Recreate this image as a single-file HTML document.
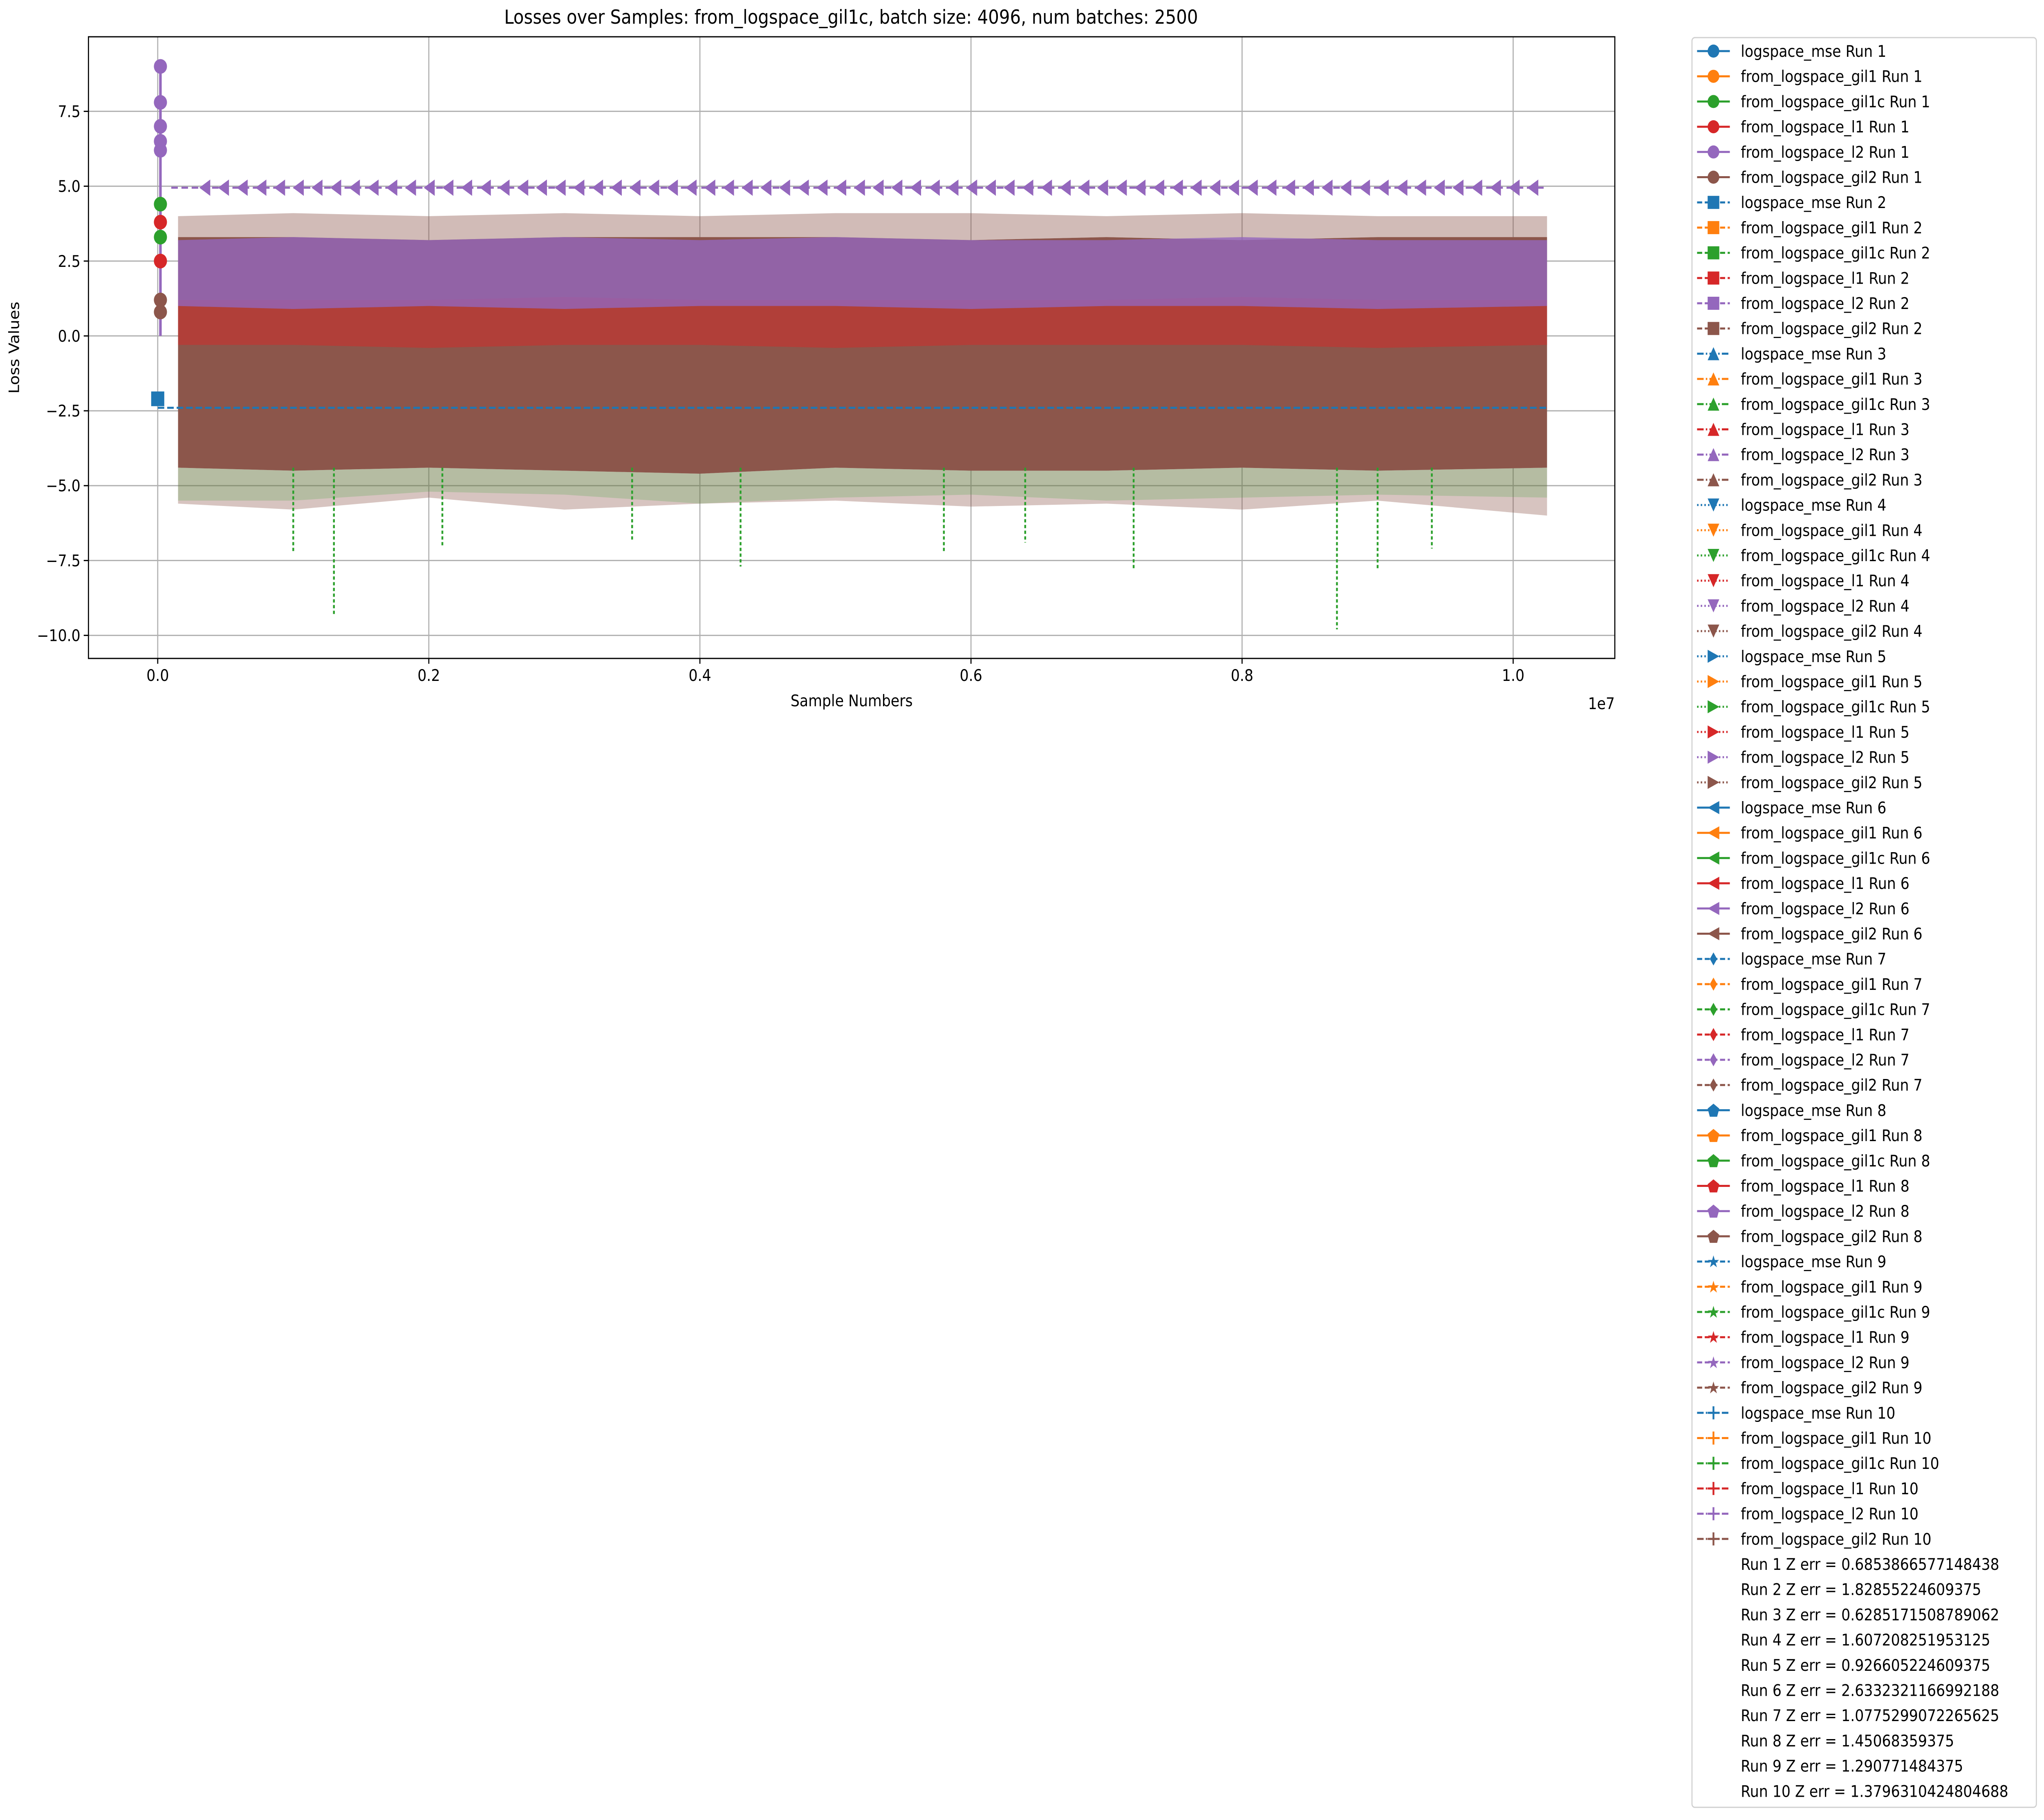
<!DOCTYPE html>
<html><head><meta charset="utf-8">
<style>
html,body{margin:0;padding:0;background:#fff;overflow:hidden;width:100%;height:100%;}
svg{display:block;width:100vw;height:100vh;font-family:"DejaVu Sans","Liberation Sans",sans-serif;}
</style></head>
<body>
<svg id="chart" xmlns="http://www.w3.org/2000/svg" viewBox="0 0 5615 4453" preserveAspectRatio="none">
<rect x="0" y="0" width="5615" height="4453" fill="#fff"/>
<text x="2338" y="58" font-size="47" text-anchor="middle">Losses over Samples: from_logspace_gil1c, batch size: 4096, num batches: 2500</text>
<g id="grid"></g>
<g id="marks"></g>
<g id="axes"></g>
<g id="legend"></g>
</svg>
<script>
// ---- data (sample numbers in millions, loss values) ----
const xTicks = [0, 0.2, 0.4, 0.6, 0.8, 1.0];          // x1e7
const xTickLabels = ["0.0","0.2","0.4","0.6","0.8","1.0"];
const yTicks = [-10, -7.5, -5, -2.5, 0, 2.5, 5, 7.5];
const yTickLabels = ["−10.0","−7.5","−5.0","−2.5","0.0","2.5","5.0","7.5"];
const binX = [0.15, 1, 2, 3, 4, 5, 6, 7, 8, 9, 10.25];
const gil2Hi = [3.3, 3.3, 3.2, 3.3, 3.3, 3.3, 3.2, 3.3, 3.2, 3.3, 3.3];
const gil2Lo = [-4.4, -4.5, -4.4, -4.5, -4.6, -4.4, -4.5, -4.5, -4.4, -4.5, -4.4];
const gil2SparseHi = [4.0, 4.1, 4.0, 4.1, 4.0, 4.1, 4.1, 4.0, 4.1, 4.0, 4.0];
const gil2SparseLo = [-5.6, -5.8, -5.4, -5.8, -5.6, -5.5, -5.7, -5.6, -5.8, -5.5, -6.0];
const l2Hi = [3.2, 3.3, 3.2, 3.3, 3.2, 3.3, 3.2, 3.2, 3.3, 3.2, 3.2];
const l2Lo = [1.0, 0.9, 1.0, 0.9, 1.0, 1.0, 0.9, 1.0, 1.0, 0.9, 1.0];
const l1Hi = [1.2, 1.2, 1.2, 1.3, 1.2, 1.2, 1.2, 1.2, 1.3, 1.2, 1.2];
const l1Lo = [-0.3, -0.3, -0.4, -0.3, -0.3, -0.4, -0.3, -0.3, -0.3, -0.4, -0.3];
const gil1cLo = [-5.5, -5.5, -5.2, -5.3, -5.6, -5.4, -5.3, -5.5, -5.4, -5.3, -5.4];
const spikeX = [1.3, 1.0, 2.1, 4.3, 5.8, 7.2, 8.7, 9.0, 9.4, 6.4, 3.5];
const spikeY = [-9.3, -7.2, -7.0, -7.7, -7.2, -7.8, -9.8, -7.8, -7.1, -6.9, -6.8];
const mseLevel = -2.4;
const l2Run6Level = 4.95;
const startVals = [9.0, 7.8, 7.0, 6.5, 6.2, 4.4, 3.8, 3.3, 2.5, 1.2, 0.8];
const startColors = [4, 4, 4, 4, 4, 2, 3, 2, 3, 5, 5];
const zErr = ["0.6853866577148438","1.82855224609375","0.6285171508789062","1.607208251953125","0.926605224609375","2.6332321166992188","1.0775299072265625","1.45068359375","1.290771484375","1.3796310424804688"];

// ---- axes ----
const L = 243, R = 4436, T = 90, B = 1611;
const xMin = -0.511, xMax = 10.75, yMin = -10.77, yMax = 9.99;
const X = v => L + (v - xMin) / (xMax - xMin) * (R - L);
const Y = v => B - (v - yMin) / (yMax - yMin) * (B - T);
const NS = "http://www.w3.org/2000/svg";
const colors = ["#1f77b4","#ff7f0e","#2ca02c","#d62728","#9467bd","#8c564b"];
function mk(tag, attrs, parent){const e=document.createElementNS(NS,tag);for(const k in attrs)e.setAttribute(k,attrs[k]);parent.appendChild(e);return e;}
const grid = document.getElementById('grid'), marks = document.getElementById('marks'), axes = document.getElementById('axes'), legend = document.getElementById('legend');

xTicks.forEach((t,i)=>{
  const x = X(t*10);
  let g = mk('line',{x1:x,x2:x,y1:T,y2:B,stroke:'#b0b0b0','stroke-width':3},grid);
  
  
  let tk = mk('line',{x1:x,x2:x,y1:B,y2:B+13,stroke:'#000','stroke-width':3},axes);
  
  
  let tl = mk('text',{x:x,y:B+55,'font-size':39,'text-anchor':'middle'},axes);
  tl.textContent = xTickLabels[i];
  
  
});
yTicks.forEach((t,i)=>{
  const y = Y(t);
  let g = mk('line',{x1:L,x2:R,y1:y,y2:y,stroke:'#b0b0b0','stroke-width':3},grid);
  
  
  let tk = mk('line',{x1:L-13,x2:L,y1:y,y2:y,stroke:'#000','stroke-width':3},axes);
  
  
  let tl = mk('text',{x:L-22,y:y+14,'font-size':39,'text-anchor':'end'},axes);
  tl.textContent = yTickLabels[i];
  
  
});
let sp = mk('rect',{x:L,y:T,width:R-L,height:B-T,fill:'none',stroke:'#000','stroke-width':3},axes);


let xl = mk('text',{x:(L+R)/2,y:1728,'font-size':39,'text-anchor':'middle'},axes);
xl.textContent='Sample Numbers';


let yl = mk('text',{x:0,y:0,'font-size':39,'text-anchor':'middle',transform:`translate(52,${(T+B)/2}) rotate(-90)`},axes);
yl.textContent='Loss Values';


let ex = mk('text',{x:R,y:1735,'font-size':39,'text-anchor':'end'},axes);
ex.textContent='1e7';



// ---- marks ----
const clip = mk('clipPath',{id:'pc'},mk('defs',{},marks));
mk('rect',{x:L,y:T,width:R-L,height:B-T},clip);
const pg = mk('g',{'clip-path':'url(#pc)'},marks);
function band(hi, lo, color, op, name){
  let pts = binX.map((x,i)=>X(x)+','+Y(hi[i]));
  for(let i=binX.length-1;i>=0;i--) pts.push(X(binX[i])+','+Y(lo[i]));
  const p = mk('polygon',{points:pts.join(' '),fill:color,'fill-opacity':op},pg);
  
  
}
band(gil2SparseHi, gil2Hi, colors[5], 0.4, 'gil2-sparse-upper-band');
band(gil2Lo, gil2SparseLo, colors[5], 0.35, 'gil2-sparse-lower-band');
band(gil2Lo, gil1cLo, colors[2], 0.2, 'gil1c-lower-band');
band(gil2Hi, gil2Lo, colors[5], 1, 'gil2-band');
band(l1Hi, l1Lo, colors[3], 0.5, 'l1-band');
band(l2Hi, l2Lo, colors[4], 0.8, 'l2-band');
spikeX.forEach((sx,i)=>{
  const s = mk('line',{x1:X(sx),x2:X(sx),y1:Y(gil2Lo[0]),y2:Y(spikeY[i]),stroke:colors[2],'stroke-width':5,'stroke-dasharray':'8,6'},pg);
  
  
});
let ml = mk('line',{x1:X(0),x2:X(10.25),y1:Y(mseLevel),y2:Y(mseLevel),stroke:colors[0],'stroke-width':5,'stroke-dasharray':'18,8'},pg);


let pl = mk('line',{x1:X(0.1),x2:X(10.25),y1:Y(l2Run6Level),y2:Y(l2Run6Level),stroke:colors[4],'stroke-width':5,'stroke-dasharray':'18,10'},pg);


for(let k=0;k<72;k++){
  const x = X(0.35 + k*0.138), y = Y(l2Run6Level);
  const m = mk('polygon',{points:`${x-16},${y} ${x+14},${y-20} ${x+14},${y+20}`,fill:colors[4]},pg);
  
  
}
let st = mk('line',{x1:X(0.02),x2:X(0.02),y1:Y(startVals[0]),y2:Y(0),stroke:colors[4],'stroke-width':7},pg);


startVals.forEach((v,i)=>{
  const c = mk('circle',{cx:X(0.02),cy:Y(v),r:18,fill:colors[startColors[i]]},pg);
  
  
});
let sq = mk('rect',{x:X(0)-18,y:Y(-2.1)-18,width:36,height:36,fill:colors[0]},pg);



// ---- legend ----
let lb = mk('rect',{x:4648,y:92,width:946,height:4330,rx:8,fill:'#fff',stroke:'#d0d0d0','stroke-width':3},legend);


const names = ["logspace_mse","from_logspace_gil1","from_logspace_gil1c","from_logspace_l1","from_logspace_l2","from_logspace_gil2"];
const dashes = ['', '14,7', '18,6,4,6', '4,6', '4,6', '', '14,7', '', '14,7', '18,6,4,6'];
function marker(run, cx, cy, col){
  const s = 16; let e;
  switch(run){
    case 1: e = mk('circle',{cx,cy,r:s},legend); break;
    case 2: e = mk('rect',{x:cx-s,y:cy-s,width:2*s,height:2*s},legend); break;
    case 3: e = mk('polygon',{points:`${cx},${cy-s} ${cx-s},${cy+s} ${cx+s},${cy+s}`},legend); break;
    case 4: e = mk('polygon',{points:`${cx},${cy+s} ${cx-s},${cy-s} ${cx+s},${cy-s}`},legend); break;
    case 5: e = mk('polygon',{points:`${cx+s},${cy} ${cx-s},${cy-s} ${cx-s},${cy+s}`},legend); break;
    case 6: e = mk('polygon',{points:`${cx-s},${cy} ${cx+s},${cy-s} ${cx+s},${cy+s}`},legend); break;
    case 7: e = mk('polygon',{points:`${cx},${cy-s} ${cx+10},${cy} ${cx},${cy+s} ${cx-10},${cy}`},legend); break;
    case 8: e = mk('polygon',{points:`${cx},${cy-s} ${cx+s},${cy-4} ${cx+10},${cy+s} ${cx-10},${cy+s} ${cx-s},${cy-4}`},legend); break;
    case 9: e = mk('text',{x:cx,y:cy+14,'font-size':40,'text-anchor':'middle'},legend); e.textContent='★'; break;
    default: e = mk('path',{d:`M${cx-s},${cy}H${cx+s}M${cx},${cy-s}V${cy+s}`,stroke:col,'stroke-width':5},legend);
  }
  e.setAttribute('fill',col);
  
  
}
let row = 0;
for(let run=1; run<=10; run++){
  for(let s=0; s<6; s++){
    const cy = 125 + row*61.7;
    const ln = mk('line',{x1:4662,x2:4752,y1:cy,y2:cy,stroke:colors[s],'stroke-width':5,'stroke-dasharray':dashes[run-1]},legend);
    
    
    marker(run, 4707, cy, colors[s]);
    const t = mk('text',{x:4782,y:cy+14,'font-size':39},legend);
    t.textContent = `${names[s]} Run ${run}`;
    
    
    row++;
  }
}
zErr.forEach((z,i)=>{
  const cy = 125 + row*61.7;
  const t = mk('text',{x:4782,y:cy+14,'font-size':39},legend);
  t.textContent = `Run ${i+1} Z err = ${z}`;
  
  
  row++;
});
</script>
</body></html>
